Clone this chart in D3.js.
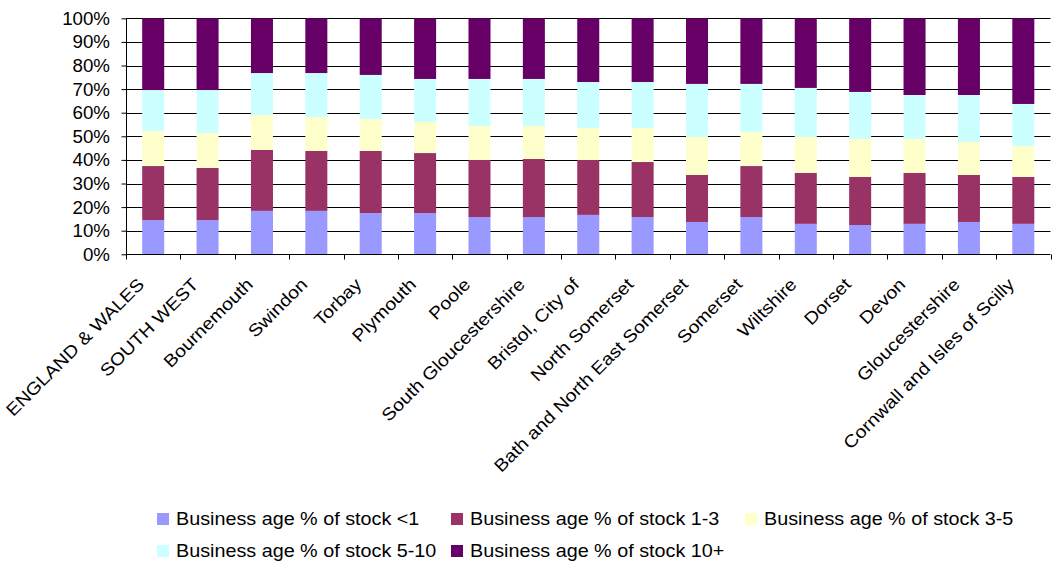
<!DOCTYPE html>
<html>
<head>
<meta charset="utf-8">
<script src="https://cdn.jsdelivr.net/npm/d3@7"></script>
<style>
  body { margin: 0; background: #fff; }
  text { font-family: "Liberation Sans", Arial, sans-serif; fill: #000; }
</style>
</head>
<body>
<svg id="chart" width="1052" height="563"></svg>
<script>
const areas = [
  "ENGLAND & WALES", "SOUTH WEST", "Bournemouth", "Swindon", "Torbay",
  "Plymouth", "Poole", "South Gloucestershire", "Bristol, City of",
  "North Somerset", "Bath and North East Somerset", "Somerset", "Wiltshire",
  "Dorset", "Devon", "Gloucestershire", "Cornwall and Isles of Scilly"
];

// share of business stock by age band, per area (%)
const ageUnder1 = [14.5, 14.5, 18.4, 18.4, 17.5, 17.5, 15.8, 15.8, 16.7, 15.8, 13.7, 15.8, 12.9, 12.4, 12.9, 13.7, 12.9];
const age1to3   = [22.9, 22.1, 25.8, 25.4, 26.3, 25.4, 24.2, 24.6, 23.3, 23.3, 19.9, 21.6, 21.6, 20.4, 21.6, 19.9, 19.9];
const age3to5   = [14.9, 14.8, 14.8, 14.4, 13.5, 13.2, 14.4, 14.0, 13.5, 14.4, 16.1, 14.4, 15.2, 16.1, 14.4, 14.0, 13.1];
const age5to10  = [17.3, 18.2, 17.8, 18.6, 18.7, 18.2, 19.9, 19.9, 19.5, 19.5, 22.5, 20.4, 20.8, 19.9, 18.6, 19.9, 17.8];
const age10plus = [30.4, 30.4, 23.2, 23.2, 24.0, 25.7, 25.7, 25.7, 27.0, 27.0, 27.8, 27.8, 29.5, 31.2, 32.5, 32.5, 36.3];

const seriesNames = [
  "Business age % of stock <1", "Business age % of stock 1-3",
  "Business age % of stock 3-5", "Business age % of stock 5-10",
  "Business age % of stock 10+"
];
const seriesColors = ["#9999ff", "#993366", "#ffffcc", "#ccffff", "#660066"];
const yTicks = [0, 0.1, 0.2, 0.3, 0.4, 0.5, 0.6, 0.7, 0.8, 0.9, 1];

const keys = ["u1", "a13", "a35", "a510", "a10"];
const rows = areas.map((a, i) => {
  const r = { area: a, u1: ageUnder1[i], a13: age1to3[i], a35: age3to5[i], a510: age5to10[i], a10: age10plus[i] };
  const tot = keys.reduce((s, k) => s + r[k], 0);
  keys.forEach(k => r[k] = r[k] / tot);
  return r;
});
const stacked = d3.stack().keys(keys)(rows);

const svg = d3.select("#chart");
const plotLeft = 126, plotRight = 1050.5, plotTop = 18.3, plotBottom = 254.3;
const fontSize = "17.5px";
// glyphs are drawn a little wider than plain Arial
const stretchY = 1.07, stretchX = 1.12, stretchLegend = 1.13;

const x = d3.scaleBand().domain(areas).range([plotLeft, plotRight]).padding(0);
const y = d3.scaleLinear().domain([0, 1]).range([plotBottom, plotTop]);
const barW = x.bandwidth() * 0.405;

// horizontal gridlines
svg.append("g")
  .selectAll("line")
  .data(yTicks.slice(1))
  .join("line")
  .attr("x1", plotLeft).attr("x2", plotRight)
  .attr("y1", d => Math.round(y(d)) + 0.5).attr("y2", d => Math.round(y(d)) + 0.5)
  .attr("stroke", "#000")
  .attr("stroke-width", 1);

// stacked bars
svg.append("g")
  .selectAll("g")
  .data(stacked)
  .join("g")
  .attr("fill", (d, i) => seriesColors[i])
  .selectAll("rect")
  .data(d => d)
  .join("rect")
  .attr("x", d => x(d.data.area) + (x.bandwidth() - barW) / 2)
  .attr("width", barW)
  .attr("y", d => y(d[1]))
  .attr("height", d => y(d[0]) - y(d[1]));

// y axis
const yAxis = svg.append("g")
  .attr("transform", `translate(${plotLeft + 0.5},0)`)
  .call(d3.axisLeft(y).tickValues(yTicks).tickFormat(d3.format(".0%")).tickSize(5));
yAxis.select(".domain").attr("stroke", "#000").attr("d", `M0,${plotTop}V${plotBottom}`);
yAxis.selectAll(".tick line").attr("stroke", "#000");
yAxis.selectAll(".tick text")
  .attr("font-size", fontSize)
  .attr("font-family", "Liberation Sans, Arial, sans-serif")
  .attr("fill", "#000")
  .attr("x", 0)
  .attr("dy", "0.34em")
  .attr("transform", `translate(-16.5,0) scale(${stretchY},1)`);

// x axis with ticks at category boundaries
const xAxis = svg.append("g").attr("transform", `translate(0,${Math.round(plotBottom) + 0.5})`);
xAxis.append("line")
  .attr("x1", plotLeft).attr("x2", plotRight)
  .attr("stroke", "#000");
xAxis.selectAll(".bt")
  .data(d3.range(areas.length + 1))
  .join("line")
  .attr("class", "bt")
  .attr("x1", i => Math.round(plotLeft + i * x.step()) + 0.5)
  .attr("x2", i => Math.round(plotLeft + i * x.step()) + 0.5)
  .attr("y1", 0).attr("y2", 5)
  .attr("stroke", "#000");

xAxis.selectAll(".lbl")
  .data(areas)
  .join("text")
  .attr("class", "lbl")
  .attr("font-size", fontSize)
  .attr("text-anchor", "end")
  .attr("transform", d => `translate(${x(d) + x.bandwidth() / 2 - 8},31) rotate(-45) scale(${stretchX},1)`)
  .text(d => d);

// legend, three entries per row
const legend = svg.append("g").attr("transform", "translate(157,513)");
const item = legend.selectAll("g")
  .data(seriesNames)
  .join("g")
  .attr("transform", (d, i) => `translate(${(i % 3) * 294},${Math.floor(i / 3) * 32})`);
item.append("rect")
  .attr("width", 12).attr("height", 12)
  .attr("fill", (d, i) => seriesColors[i]);
item.append("text")
  .attr("transform", `translate(19,12) scale(${stretchLegend},1)`)
  .attr("font-size", fontSize)
  .text(d => d);
</script>
</body>
</html>
